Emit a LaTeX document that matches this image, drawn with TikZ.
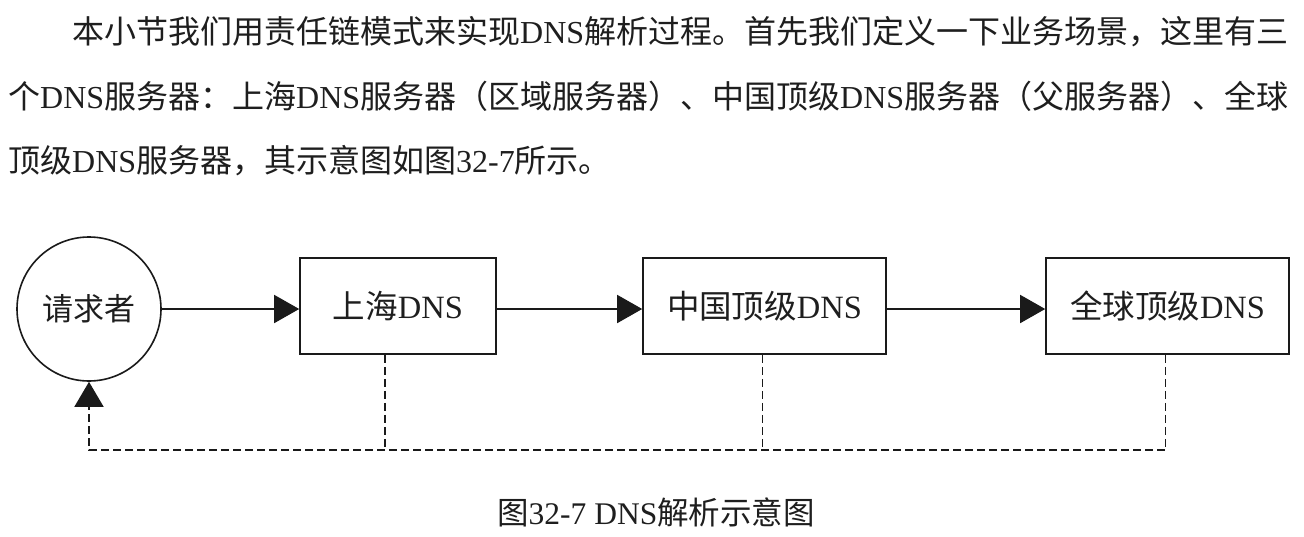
\documentclass[tikz,border=0pt]{standalone}
\usepackage{fontspec}
\setmainfont{Liberation Serif}
\newfontfamily\cjk{Noto Sans CJK SC}
\usetikzlibrary{arrows.meta}
\newcommand\dnsw{{\rmfamily DNS}}
\definecolor{ink}{HTML}{1E1E1E}
\definecolor{edge}{HTML}{1A1A1A}
\begin{document}
\begin{tikzpicture}[x=1pt,y=-1pt,
  txt/.style={inner sep=0pt, text=ink, font=\cjk\fontsize{32}{40}\selectfont},
  box/.style={draw=edge, line width=1.6pt, minimum width=243pt, minimum height=96pt, inner sep=0pt, text=ink, font=\cjk\fontsize{32.5}{40}\selectfont},
  person/.style={draw=edge, line width=1.6pt, circle, minimum size=144pt, inner sep=0pt, text=ink, font=\cjk\fontsize{31}{38}\selectfont},
  flow/.style={draw=edge, line width=1.6pt, -{Triangle[length=25pt,width=28pt]}},
  back/.style={draw=edge, line width=1.5pt, dash pattern=on 8pt off 4pt},
]
\fill[white] (0,0) rectangle (1304,536);
\useasboundingbox (0,0) rectangle (1304,536);

% paragraph
\node[txt, anchor=base west] (p1) at (72,43) {本小节我们用责任链模式来实现\dnsw 解析过程。首先我们定义一下业务场景，这里有三};
\node[txt, anchor=base west] (p2) at (8,108) {个\dnsw 服务器：上海\dnsw 服务器（区域服务器）、中国顶级\dnsw 服务器（父服务器）、全球};
\node[txt, anchor=base west] (p3) at (8,172) {顶级\dnsw 服务器，其示意图如图{\rmfamily 32-7}所示。};

% diagram
\node[person] (req) at (89,309) {请求者};
\node[box, minimum width=196pt] (b1) at (398,306) {上海\dnsw};
\node[box] (b2) at (764.5,306) {中国顶级\dnsw};
\node[box] (b3) at (1167.5,306) {全球顶级\dnsw};
\coordinate (ret) at (89,450);

\draw[flow] (req.east) -- (req.east -| b1.west);
\draw[flow] (b1.east |- req.east) -- (req.east -| b2.west);
\draw[flow] (b2.east |- req.east) -- (req.east -| b3.west);

\draw[back, -{Triangle[length=25pt,width=29pt]}] ([xshift=-2pt]b3.south) |- (req.south |- ret) -- (req.south);
\draw[back] ([xshift=-13pt]b1.south) -- ([xshift=-13pt]b1.south |- ret);
\draw[back] ([xshift=-2pt]b2.south) -- ([xshift=-2pt]b2.south |- ret);

% caption
\node[txt, font=\cjk\fontsize{31.5}{38}\selectfont, anchor=base] (cap) at (656,524) {图{\rmfamily 32-7 DNS}解析示意图};
\end{tikzpicture}
\end{document}
